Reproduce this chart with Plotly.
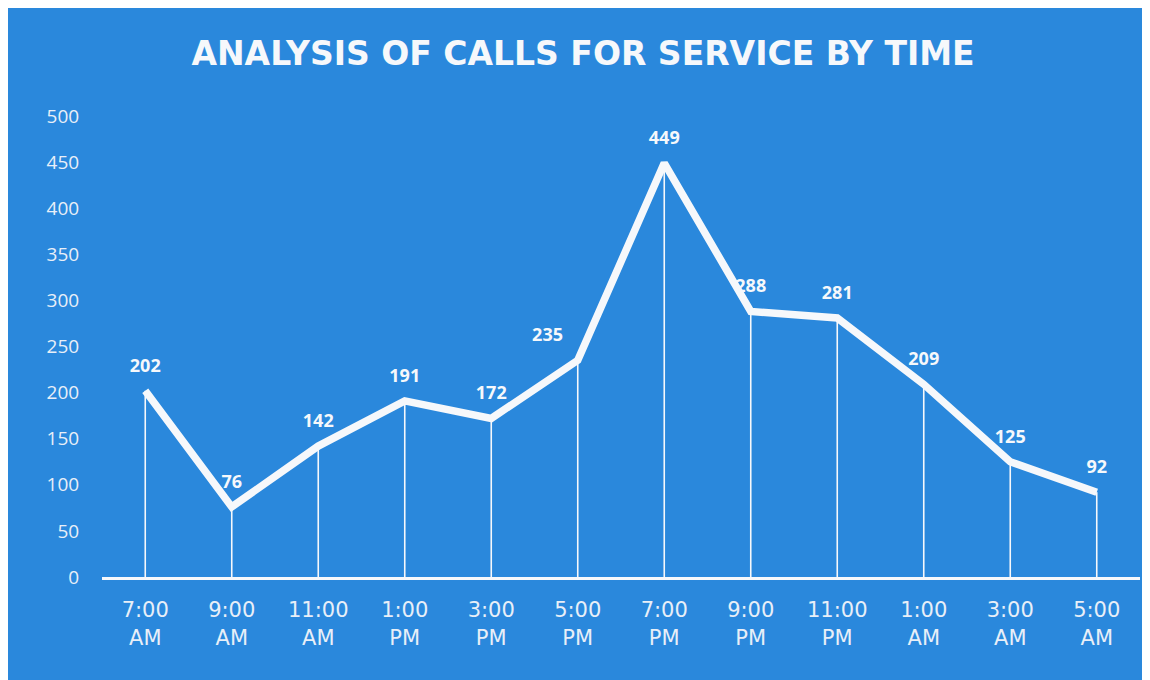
import plotly.graph_objects as go

times = ["7:00<br>AM", "9:00<br>AM", "11:00<br>AM", "1:00<br>PM", "3:00<br>PM", "5:00<br>PM",
         "7:00<br>PM", "9:00<br>PM", "11:00<br>PM", "1:00<br>AM", "3:00<br>AM", "5:00<br>AM"]
calls = [202, 76, 142, 191, 172, 235, 449, 288, 281, 209, 125, 92]
y_ticks = [0, 50, 100, 150, 200, 250, 300, 350, 400, 450, 500]

BG = "#2a88dc"
WHITE = "#f6f8fb"
LABEL = "#e8eff8"

fig = go.Figure()
fig.add_trace(go.Scatter(
    x=list(range(len(times))), y=calls,
    mode="lines+markers+text",
    line=dict(color=WHITE, width=7.5),
    marker=dict(size=22, color="rgba(0,0,0,0)"),
    text=[str(v) for v in calls],
    textposition=["top center"] * 5 + ["top left"] + ["top center"] * 6,
    textfont=dict(family="Open Sans", size=18, color=WHITE, weight="bold"),
    error_y=dict(type="data", symmetric=False, array=[0] * len(calls), arrayminus=calls,
                 color=WHITE, thickness=1.6, width=0),
    cliponaxis=False,
    hoverinfo="skip",
))

fig.update_layout(
    width=1150, height=680,
    paper_bgcolor=BG, plot_bgcolor=BG,
    margin=dict(l=94, r=18, t=108, b=111),
    showlegend=False,
    title=dict(text="<b>ANALYSIS OF CALLS FOR SERVICE BY TIME</b>", x=0.5, xanchor="center",
               y=1 - 45 / 680, yanchor="middle",
               font=dict(family="DejaVu Sans", size=33, color=WHITE)),
    xaxis=dict(range=[-0.5, len(times) - 0.5], tickmode="array",
               tickvals=list(range(len(times))), ticktext=times,
               showgrid=False, zeroline=False, showline=True, linecolor=WHITE, linewidth=3,
               ticks="outside", ticklen=12, tickcolor="rgba(0,0,0,0)",
               tickfont=dict(family="DejaVu Sans", size=21, color=LABEL)),
    yaxis=dict(range=[0, 500], tickmode="array", tickvals=y_ticks,
               showgrid=False, zeroline=False, showline=False,
               ticks="outside", ticklen=18, tickcolor="rgba(0,0,0,0)",
               tickfont=dict(family="Open Sans", size=19, color=LABEL)),
)

fig.write_html("out.html")
